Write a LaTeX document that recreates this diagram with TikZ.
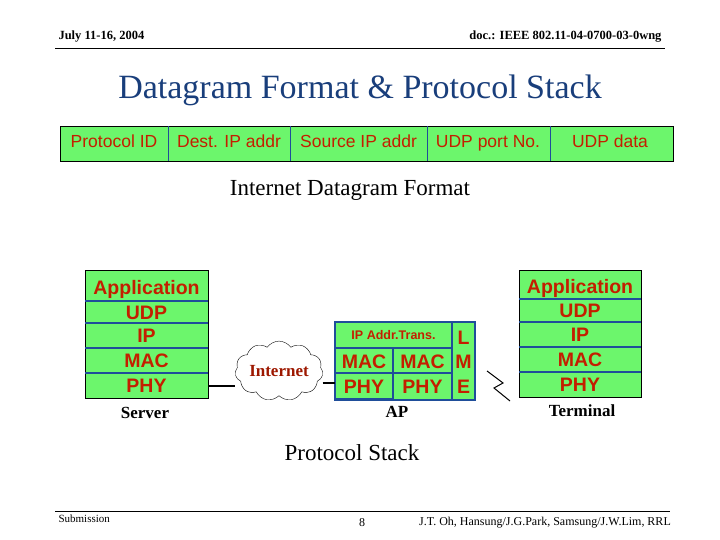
\documentclass[tikz,border=0pt]{standalone}
\usepackage{fontspec}
\setmainfont{Liberation Serif}
\newfontfamily\arial{Liberation Sans}
\usetikzlibrary{shapes.symbols}
\definecolor{gr}{HTML}{6CF66C}
\definecolor{rd}{HTML}{C41E00}
\definecolor{bl}{HTML}{1F4E9A}
\begin{document}
\begin{tikzpicture}[x=1pt,y=-1pt,
  fld/.style={draw=black,fill=gr,line width=0.8pt},
  ftxt/.style={font=\arial\fontsize{17.5}{17.5}\selectfont,text=rd,text height=12.5pt,text depth=3.5pt},
  stk/.style={font=\arial\bfseries\fontsize{19.5}{19.5}\selectfont,text=rd,text height=14pt,text depth=0pt},
  lbl/.style={font=\bfseries\fontsize{17}{17}\selectfont},
  div/.style={draw=bl,line width=1.3pt},
  apb/.style={draw=bl,fill=gr,line width=1.3pt}]
\useasboundingbox (0,0) rectangle (720,540);
% header
\node[anchor=west,font=\bfseries\fontsize{12.5}{12.5}\selectfont] (date) at (55,37) {July 11-16, 2004};
\node[anchor=east,font=\bfseries\fontsize{12.5}{12.5}\selectfont] (doc) at (665,37) {doc.: IEEE 802.11-04-0700-03-0wng};
\draw[line width=0.6pt] (55,48) -- (665,48);
\node[font=\fontsize{34}{34}\selectfont,text=bl!80!black] (title) at (360,90) {Datagram Format \& Protocol Stack};
% datagram
\draw[fld] (60,126) rectangle (673,161);
\foreach \x in {168,290,427,550} \draw[div,line width=1pt] (\x,126) -- (\x,161);
\node[ftxt] (f1) at (114,143.5) {Protocol ID};
\node[ftxt] (f2) at (229,143.5) {Dest. IP addr};
\node[ftxt] (f3) at (358.5,143.5) {Source IP addr};
\node[ftxt] (f4) at (488,143.5) {UDP port No.};
\node[ftxt] (f5) at (610,143.5) {UDP data};
\node[font=\fontsize{23}{23}\selectfont] (idf) at (350,190) {Internet Datagram Format};
% server stack
\draw[fld] (85,270) rectangle (208,398);
\foreach \y in {301,323,348,373} \draw[div] (85,\y) -- (208,\y);
\node[stk] (s1) at (146.5,287) {Application};
\node[stk] (s2) at (146.5,312) {UDP};
\node[stk] (s3) at (146.5,335.5) {IP};
\node[stk] (s4) at (146.5,360.5) {MAC};
\node[stk] (s5) at (146.5,385.5) {PHY};
\node[lbl] (server) at (145,413) {Server};
% cloud
\node[cloud,draw,cloud puffs=11,cloud puff arc=110,aspect=1.7,minimum width=86pt,minimum height=52pt,
  font=\bfseries\fontsize{17}{17}\selectfont,text=rd!80!black,inner sep=0pt] (cloud) at (279,371) {Internet};
\coordinate (sphy) at (208,386);
\draw[line width=1.3pt] (sphy) -- (cloud.west |- sphy);
% AP
\draw[apb] (335,322) rectangle (475,400);
\draw[apb] (335,322) rectangle (452,348);
\draw[apb] (452,322) rectangle (475,400);
\draw[apb] (335,348) rectangle (393,399);
\draw[apb] (393,348) rectangle (452,400);
\draw[div] (335,373) -- (452,373);
\node[font=\arial\bfseries\fontsize{12.5}{12.5}\selectfont,text=rd] (ipt) at (393.5,335) {IP Addr.Trans.};
\node[stk] (l) at (463.5,337) {L};
\node[stk] (m) at (463.5,361) {M};
\node[stk] (e) at (463.5,386) {E};
\node[stk] (mac1) at (364,361) {MAC};
\node[stk] (mac2) at (422.5,361) {MAC};
\node[stk] (phy1) at (364,386) {PHY};
\node[stk] (phy2) at (422.5,386) {PHY};
\coordinate (apin) at (335,383);
\draw[line width=1.3pt] (cloud.east |- apin) -- (apin);
\node[lbl] (ap) at (397,412) {AP};
% lightning
\coordinate (z1) at (487,371);
\coordinate (z2) at (503,383);
\coordinate (z3) at (494,388);
\coordinate (z4) at (510,401);
\draw[line width=1pt] (z1) -- (z2) -- (z3) -- (z4);
% terminal stack
\draw[fld] (519,270) rectangle (641,397);
\foreach \y in {299,322,347,372} \draw[div] (519,\y) -- (641,\y);
\node[stk] (t1) at (580,286) {Application};
\node[stk] (t2) at (580,310.5) {UDP};
\node[stk] (t3) at (580,334.5) {IP};
\node[stk] (t4) at (580,359.5) {MAC};
\node[stk] (t5) at (580,384.5) {PHY};
\node[lbl] (term) at (582,411) {Terminal};
\node[font=\fontsize{23}{23}\selectfont] (ps) at (352,453) {Protocol Stack};
% footer
\draw[line width=0.6pt] (55,511) -- (670,511);
\node[anchor=west,font=\fontsize{11}{11}\selectfont] (sub) at (55,519) {Submission};
\node[font=\fontsize{12}{12}\selectfont] (pg) at (362,523) {8};
\node[font=\fontsize{12}{12}\selectfont] (auth) at (545,523) {J.T. Oh, Hansung/J.G.Park, Samsung/J.W.Lim, RRL};
\end{tikzpicture}
\end{document}
